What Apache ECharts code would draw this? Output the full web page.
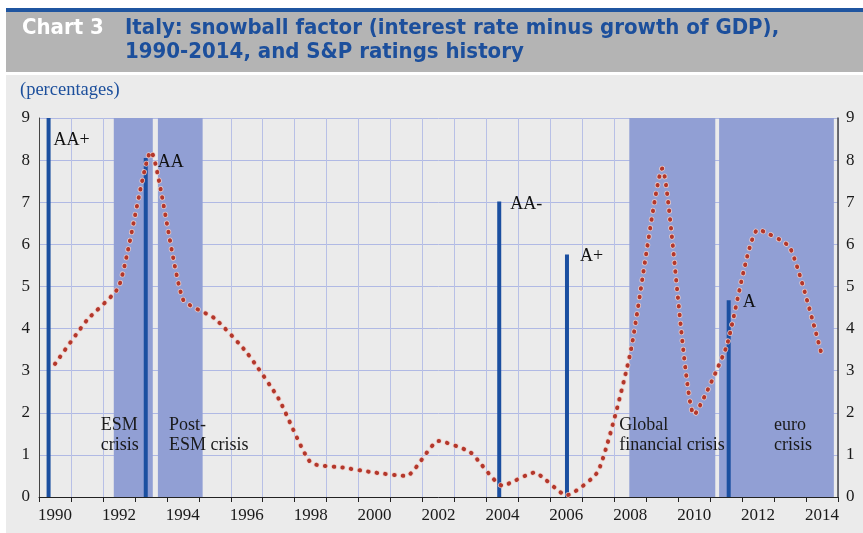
<!DOCTYPE html>
<html><head><meta charset="utf-8">
<script src="https://cdn.jsdelivr.net/npm/echarts@6/dist/echarts.min.js"></script>
<style>html,body{margin:0;padding:0;background:#fff}#c{width:863px;height:533px}</style>
</head><body><div id="c"></div>
<script>
// ---- data ----
const years = ['1990','1991','1992','1993','1994','1995','1996','1997','1998','1999','2000','2001','2002','2003','2004','2005','2006','2007','2008','2009','2010','2011','2012','2013','2014'];
const snowball = [3.16, 4.2, 5.0, 8.2, 4.7, 4.24, 3.43, 2.33, 0.82, 0.70, 0.58, 0.50, 1.33, 1.06, 0.27, 0.58, 0.04, 0.62, 3.41, 7.8, 1.95, 3.55, 6.35, 5.92, 3.35];
const ratingDates = [1990.3, 1993.34, 2004.4, 2006.52, 2011.58];
const ratingLevels = [9, 8.05, 7.02, 5.76, 4.67];
const ratingNames = ['AA+', 'AA', 'AA-', 'A+', 'A'];
const crisisStart = [1992.34, 1993.72, 2008.47, 2011.28];
const crisisEnd = [1993.56, 1995.12, 2011.16, 2014.87];
const crisisNames = ['ESM\ncrisis', 'Post-\nESM crisis', 'Global\nfinancial crisis', 'euro\ncrisis'];
const yMin = 0, yMax = 9, yStep = 1;

// ---- styling / layout ----
const serif = "'Liberation Serif','Times New Roman',serif";
const titleFont = "'DejaVu Sans Condensed','Liberation Sans Narrow','DejaVu Sans',sans-serif";
const ratingLabelPos = [[7, 22], [14, 4], [13, 3], [15, 2], [16, 2]];
const crisisLabelOffset = [[-18, -37], [6, -37], [-15, -37], [50, -37]];
const dotDash = [0.5, 8.2];

const chart = echarts.init(document.getElementById('c'), null, {renderer: 'canvas'});
const option = {
  animation: false,
  backgroundColor: '#ffffff',
  graphic: [
    {type: 'rect', shape: {x: 6, y: 8, width: 857, height: 4}, style: {fill: '#1f55a0'}, z: -10},
    {type: 'rect', shape: {x: 6, y: 12, width: 857, height: 60}, style: {fill: '#b4b4b4'}, z: -10},
    {type: 'rect', shape: {x: 6, y: 75, width: 857, height: 458}, style: {fill: '#ebebeb'}, z: -10},
    {type: 'text', x: 22, y: 28, style: {text: 'Chart 3', fill: '#ffffff', font: 'bold 22px ' + titleFont, textVerticalAlign: 'middle'}, z: 10},
    {type: 'text', x: 125, y: 28, style: {text: 'Italy: snowball factor (interest rate minus growth of GDP),', fill: '#1c4f9c', font: 'bold 22px ' + titleFont, textVerticalAlign: 'middle'}, z: 10},
    {type: 'text', x: 125, y: 52, style: {text: '1990-2014, and S&P ratings history', fill: '#1c4f9c', font: 'bold 22px ' + titleFont, textVerticalAlign: 'middle'}, z: 10},
    {type: 'text', x: 20, y: 90, style: {text: '(percentages)', fill: '#1c4f9c', font: '18.5px ' + serif, textVerticalAlign: 'middle'}, z: 10}
  ],
  grid: {left: 39, right: 25, top: 118, bottom: 36, containLabel: false},
  xAxis: [
    {
      type: 'category', data: years, boundaryGap: true, position: 'bottom',
      axisLine: {show: true, lineStyle: {color: '#222', width: 1}},
      axisTick: {show: true, interval: 0, alignWithLabel: false, length: 5, lineStyle: {color: '#222'}},
      axisLabel: {interval: 1, color: '#1a1a1a', fontFamily: serif, fontSize: 17, margin: 10},
      splitLine: {show: true, interval: 0, lineStyle: {color: '#b8c0e6', width: 1}}
    },
    {type: 'value', min: 1990, max: 2015, show: false}
  ],
  yAxis: [
    {
      type: 'value', min: yMin, max: yMax, interval: yStep, position: 'left',
      axisLine: {show: true, lineStyle: {color: '#444', width: 1}},
      axisTick: {show: false},
      axisLabel: {color: '#1a1a1a', fontFamily: serif, fontSize: 17, margin: 9},
      splitLine: {show: true, lineStyle: {color: '#b0b9e4', width: 1}}
    },
    {
      type: 'value', min: yMin, max: yMax, interval: yStep, position: 'right',
      axisLine: {show: true, lineStyle: {color: '#444', width: 1.5}},
      axisTick: {show: false},
      axisLabel: {color: '#1a1a1a', fontFamily: serif, fontSize: 17, margin: 8},
      splitLine: {show: false}
    }
  ],
  series: [
    {
      name: 'crises', type: 'line', xAxisIndex: 1, yAxisIndex: 0, z: 1,
      data: crisisStart.map(v => [v, 0]), symbol: 'none', lineStyle: {opacity: 0}, silent: true,
      markArea: {
        silent: true,
        itemStyle: {color: '#919fd4', opacity: 1},
        label: {show: true, position: 'insideBottomLeft', color: '#1a1a1a', fontFamily: serif, fontSize: 18, lineHeight: 20, align: 'left'},
        data: crisisStart.map((s, i) => [
          {xAxis: s, name: crisisNames[i], label: {offset: crisisLabelOffset[i]}},
          {xAxis: crisisEnd[i]}
        ])
      }
    },
    {
      name: 'ratings', type: 'bar', xAxisIndex: 1, yAxisIndex: 0, z: 2, barWidth: 4,
      itemStyle: {color: '#1b4fa0'},
      label: {show: true, formatter: p => p.name, color: '#111', fontFamily: serif, fontSize: 18, align: 'left', verticalAlign: 'middle'},
      data: ratingDates.map((d, i) => ({value: [d, ratingLevels[i]], name: ratingNames[i], label: {position: ratingLabelPos[i]}}))
    },
    {
      name: 'halo', type: 'line', xAxisIndex: 0, yAxisIndex: 0, z: 3, data: snowball, smooth: 0.18,
      symbol: 'none', silent: true,
      lineStyle: {color: 'rgba(240,205,200,0.9)', width: 5.5, type: dotDash, cap: 'round'}
    },
    {
      name: 'snowball', type: 'line', xAxisIndex: 0, yAxisIndex: 0, z: 4, data: snowball, smooth: 0.18,
      symbol: 'none',
      lineStyle: {color: '#b3372b', width: 4, type: dotDash, cap: 'round'}
    }
  ]
};
chart.setOption(option);
</script>
</body></html>
